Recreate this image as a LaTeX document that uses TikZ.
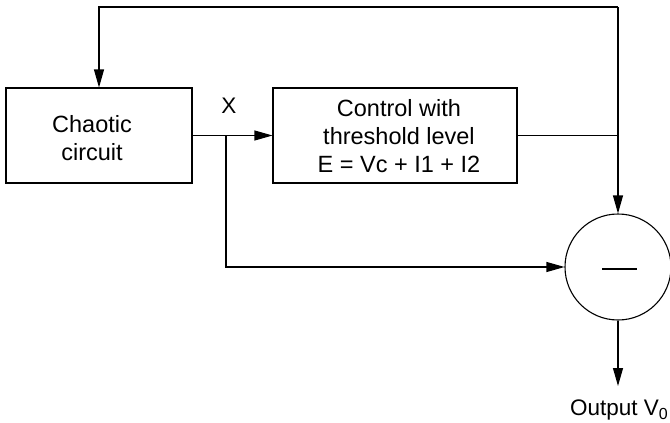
\documentclass[tikz,border=0pt]{standalone}
\usepackage{fontspec}
\setmainfont{Liberation Sans}
\usetikzlibrary{arrows.meta,calc}
\begin{document}
\begin{tikzpicture}[x=1pt,y=-1pt,
  line width=1.1pt,
  box/.style={draw,inner sep=0pt},
  txt/.style={inner sep=0pt,align=center,font=\fontsize{23.5}{28}\selectfont},
  arr/.style={-{Triangle[length=18pt,width=10pt]}},
  lbl/.style={font=\fontsize{22.5}{26}\selectfont,inner sep=0pt}]
\useasboundingbox (0,0) rectangle (670,423);
\node[box,minimum width=186,minimum height=95] (chaos) at (99,135.5) {};
\node[txt] (chaostxt) at (92,138) {Chaotic\\circuit};
\node[box,minimum width=244,minimum height=95] (ctrl) at (395,135.5) {};
\node[txt] (ctrltxt) at (399,136) {Control with\\threshold level\\E = Vc + I1 + I2};
\node[draw,circle,minimum size=106,inner sep=0pt] (circ) at (618,267) {};
\draw[line width=2pt] ($(circ.center)+(-16,2)$) -- ($(circ.center)+(19,2)$);
\coordinate (top) at (0,7);
\coordinate (j) at (226,135.5);
\coordinate (out) at (618,386);
\node[lbl] (x) at (229,106) {X};
\draw[arr] (chaos.east) -- (ctrl.west);
\draw[arr] (j) |- (circ.west);
\draw (ctrl.east) -- (ctrl.east -| circ.north);
\draw[arr] (circ.north |- top) -- (chaos.north |- top) -- (chaos.north);
\draw[arr] (circ.north |- top) -- (circ.north);
\draw[arr] (circ.south) -- (out);
\node[lbl,anchor=base] (outlbl) at (619,415) {Output V\raisebox{-0.35ex}{\fontsize{16}{16}\selectfont 0}};
\end{tikzpicture}
\end{document}
